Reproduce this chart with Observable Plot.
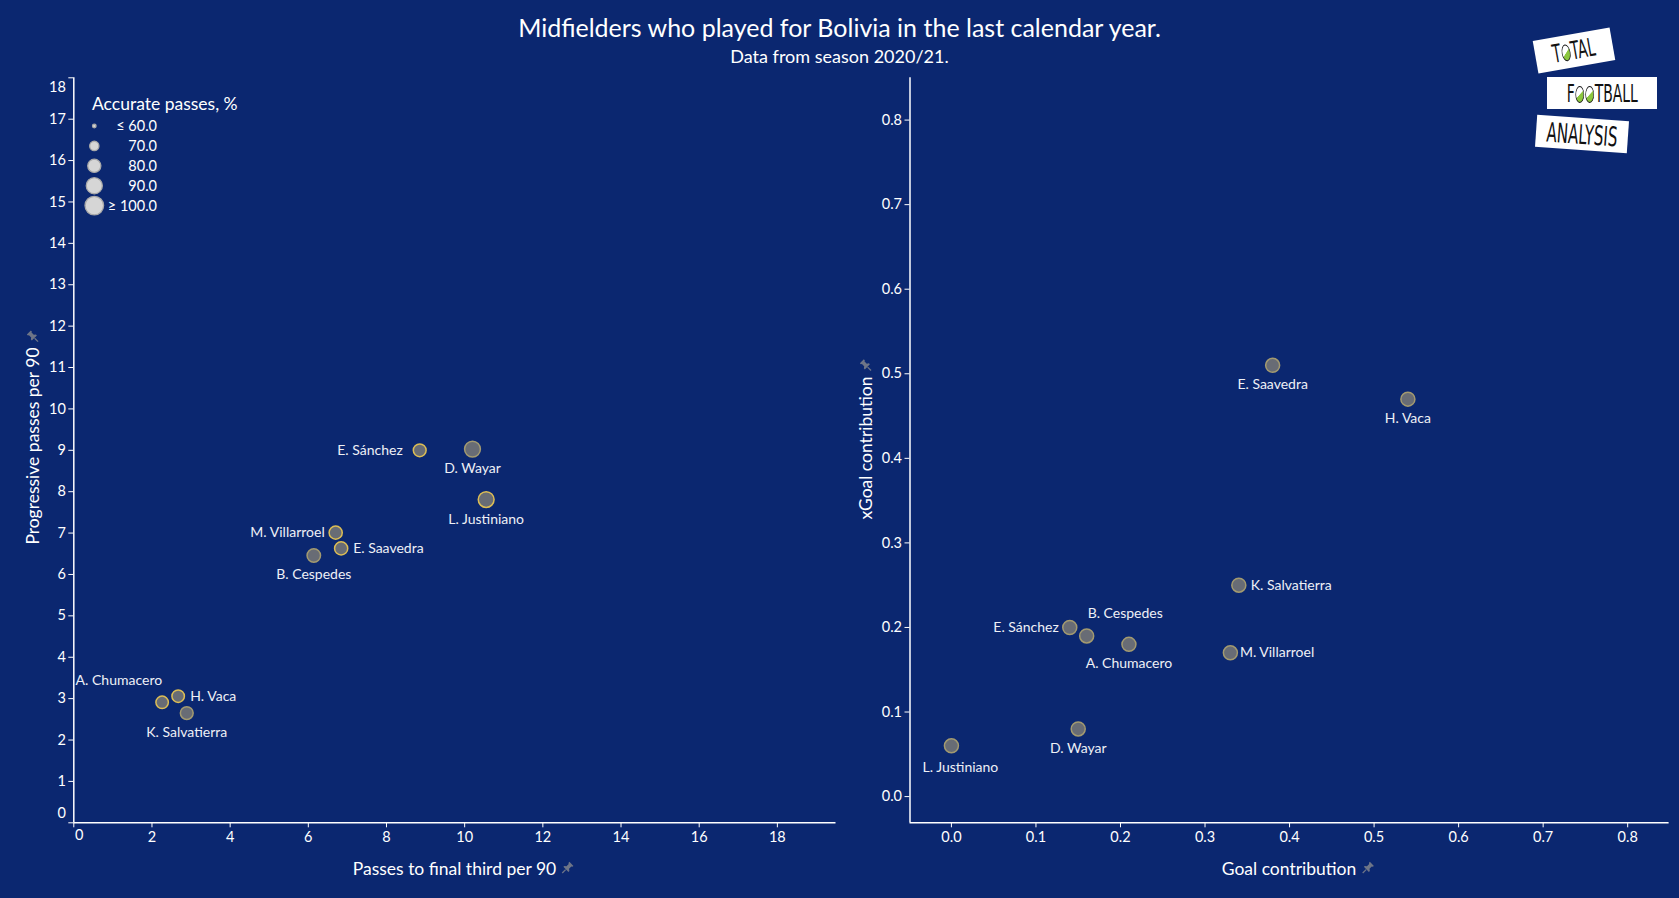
<!DOCTYPE html>
<html>
<head>
<meta charset="utf-8">
<script src="https://cdn.jsdelivr.net/npm/d3@7"></script>
<script src="https://cdn.jsdelivr.net/npm/@observablehq/plot@0.6"></script>
<style>
  html, body { margin: 0; padding: 0; background: #0b2770; overflow: hidden; }
  #page { position: relative; width: 1679px; height: 898px; background: #0b2770; font-family: Lato, "Open Sans", sans-serif; color: #ffffff; overflow: hidden; }
  .hdr { position: absolute; left: 0; width: 1679px; text-align: center; line-height: normal; white-space: nowrap; }
  #title { top: 12px; font-size: 25px; }
  #subtitle { top: 45px; font-size: 18px; }
  .chart { position: absolute; top: 66px; }
  .axlabel { position: absolute; font-size: 17.5px; line-height: normal; white-space: nowrap; color: #ffffff; }
  .axlabel .pin { position: absolute; left: 100%; top: 50%; margin-left: 5px; width: 13px; height: 13px; transform: translateY(-50%); }
  .logo { position: absolute; background: #ffffff; color: #111; font-family: "DejaVu Sans Condensed", "DejaVu Sans", sans-serif; font-weight: 300; display: flex; align-items: center; justify-content: center; letter-spacing: 0px; white-space: nowrap; }
  .logo .txt { display: inline-block; transform: scaleX(0.62); }
  .ball { display: inline-block; width: 14px; height: 17px; border: 1.5px solid #111; border-radius: 50%; box-sizing: border-box; vertical-align: -1px; background: linear-gradient(145deg, #ffffff 48%, #8cc63f 52%); margin: 0 1px; }
  #legend { position: absolute; left: 0; top: 0; }
</style>
</head>
<body>
<div id="page">
  <div class="hdr" id="title">Midfielders who played for Bolivia in the last calendar year.</div>
  <div class="hdr" id="subtitle">Data from season 2020/21.</div>
  <div class="chart" id="leftChart" style="left:0px;"></div>
  <div class="chart" id="rightChart" style="left:840px;"></div>
  <svg id="legend" width="260" height="230"></svg>
</div>
<script>
// ---------------- data ----------------
const players = ["E. Sánchez", "D. Wayar", "L. Justiniano", "M. Villarroel", "E. Saavedra", "B. Cespedes", "A. Chumacero", "H. Vaca", "K. Salvatierra"];
const passesToFinalThird = [8.85, 10.2, 10.55, 6.7, 6.84, 6.14, 2.26, 2.67, 2.89];
const progressivePasses = [9.0, 9.03, 7.81, 7.01, 6.63, 6.46, 2.91, 3.06, 2.65];
const accuratePassesPct = [79, 89, 89, 80, 80, 81, 78, 78, 79];
const borderGroup = ["A", "B", "A", "A", "A", "B", "A", "A", "B"];
const goalContribution = [0.14, 0.15, 0.0, 0.33, 0.38, 0.16, 0.21, 0.54, 0.34];
const xGoalContribution = [0.20, 0.08, 0.06, 0.17, 0.51, 0.19, 0.18, 0.47, 0.25];

const leftXTicks = [0, 2, 4, 6, 8, 10, 12, 14, 16, 18];
const leftYTicks = [0, 1, 2, 3, 4, 5, 6, 7, 8, 9, 10, 11, 12, 13, 14, 15, 16, 17, 18];
const rightXTicks = [0, 0.1, 0.2, 0.3, 0.4, 0.5, 0.6, 0.7, 0.8];
const rightYTicks = [0, 0.1, 0.2, 0.3, 0.4, 0.5, 0.6, 0.7, 0.8];
const legendValues = [60, 70, 80, 90, 100];
const legendLabels = ["≤ 60.0", "70.0", "80.0", "90.0", "≥ 100.0"];

const titleText = "Accurate passes, %";
const leftXLabel = "Passes to final third per 90";
const leftYLabel = "Progressive passes per 90";
const rightXLabel = "Goal contribution";
const rightYLabel = "xGoal contribution";

// size encoding: radius grows with sqrt of the excess over the 60 % floor
const ACC_FLOOR = 60;
const ACC_CEIL = 100;

// label placement (layout, not data)
const leftPlacement = {"E. Sánchez": "leftFar", "D. Wayar": "below", "L. Justiniano": "below", "M. Villarroel": "left", "E. Saavedra": "right", "B. Cespedes": "below", "A. Chumacero": "aboveLeft", "H. Vaca": "right", "K. Salvatierra": "below"};
const rightPlacement = {"E. Sánchez": "left", "D. Wayar": "below", "L. Justiniano": "belowRight", "M. Villarroel": "rightNear", "E. Saavedra": "below", "B. Cespedes": "aboveRight", "A. Chumacero": "below", "H. Vaca": "below", "K. Salvatierra": "right"};
const placementStyle = {
  left: {textAnchor: "end", dx: -11, dy: 0},
  leftFar: {textAnchor: "end", dx: -17, dy: 0},
  right: {textAnchor: "start", dx: 12, dy: 0},
  rightNear: {textAnchor: "start", dx: 9.5, dy: 0},
  below: {textAnchor: "middle", dx: 0, dy: 19.5},
  belowRight: {textAnchor: "middle", dx: 9, dy: 21.5},
  aboveLeft: {textAnchor: "end", dx: 0, dy: -22},
  aboveRight: {textAnchor: "start", dx: 1, dy: -22}
};

const rows = players.map((name, i) => ({
  name, p3: passesToFinalThird[i], prog: progressivePasses[i], acc: accuratePassesPct[i],
  grp: borderGroup[i], gc: goalContribution[i], xgc: xGoalContribution[i]
}));

// ---------------- styles ----------------
const WHITE = "#ffffff";
const POINT_FILL = "#686c75";
const YELLOW = "#dcbd55";
const KHAKI = "#a39a70";
const LABEL_COLOR = "#eef0f6";
const baseStyle = {background: "transparent", color: WHITE, fontFamily: "Lato, 'Open Sans', sans-serif", fontSize: "14.5px", overflow: "visible"};

function labelMarks(placement, xKey, yKey) {
  return Object.entries(placementStyle).map(([kind, st]) =>
    Plot.text(rows.filter(d => placement[d.name] === kind), {
      x: xKey, y: yKey, text: "name", textAnchor: st.textAnchor, dx: st.dx, dy: st.dy,
      fill: LABEL_COLOR, fontSize: 14
    })
  );
}

// ---------------- left chart ----------------
const leftPlot = Plot.plot({
  width: 840, height: 832,
  marginLeft: 73.3, marginRight: 4.5, marginTop: 11.3, marginBottom: 75.7,
  style: baseStyle,
  x: {domain: [0, 19.5]},
  y: {domain: [0, 18]},
  r: {type: "sqrt", domain: [0, ACC_CEIL - ACC_FLOOR], range: [0, 9.3], clamp: true},
  color: {domain: ["A", "B"], range: [YELLOW, KHAKI]},
  marks: [
    Plot.axisX({ticks: leftXTicks.filter(t => t > 0 && t < 19.5), tickSize: 5, tickPadding: 4, label: null, tickFormat: d3.format("d")}),
    Plot.axisX({ticks: [0], tickSize: 5, label: null, tickFormat: () => ""}),
    Plot.text([leftXTicks[0]], {x: d => d, frameAnchor: "bottom", dy: 17, dx: 5.5, text: d => String(d), fill: WHITE, fontSize: 14.5}),
    Plot.axisY({ticks: leftYTicks.filter(t => t > 0 && t < 18), tickSize: 5, tickPadding: 3, label: null, tickFormat: d3.format("d")}),
    Plot.axisY({ticks: [leftYTicks[0], leftYTicks[leftYTicks.length - 1]], tickSize: 5, label: null, tickFormat: () => ""}),
    Plot.text([leftYTicks[0]], {y: d => d, frameAnchor: "left", textAnchor: "end", dx: -8, dy: -9.6, text: d => String(d), fill: WHITE, fontSize: 14.5}),
    Plot.text([leftYTicks[leftYTicks.length - 1]], {y: d => d, frameAnchor: "left", textAnchor: "end", dx: -8, dy: 9.7, text: d => String(d), fill: WHITE, fontSize: 14.5}),
    Plot.ruleX([0], {stroke: WHITE, strokeWidth: 1.5}),
    Plot.ruleY([0], {stroke: WHITE, strokeWidth: 1.5}),
    Plot.dot(rows, {x: "p3", y: "prog", r: d => d.acc - ACC_FLOOR, fill: POINT_FILL, stroke: "grp", strokeWidth: 1.5}),
    ...labelMarks(leftPlacement, "p3", "prog")
  ]
});
document.getElementById("leftChart").appendChild(leftPlot);

// ---------------- right chart ----------------
const rightPlot = Plot.plot({
  width: 839, height: 832,
  marginLeft: 69.5, marginRight: 10.4, marginTop: 11.3, marginBottom: 75.7,
  style: baseStyle,
  x: {domain: [-0.049, 0.849]},
  y: {domain: [-0.031, 0.85]},
  marks: [
    Plot.axisX({ticks: rightXTicks, tickSize: 5, tickPadding: 4, label: null, tickFormat: d3.format(".1f")}),
    Plot.axisY({ticks: rightYTicks, tickSize: 5, tickPadding: 3, label: null, tickFormat: d3.format(".1f")}),
    Plot.ruleX([-0.049], {stroke: WHITE, strokeWidth: 1.5}),
    Plot.ruleY([-0.031], {stroke: WHITE, strokeWidth: 1.5}),
    Plot.dot(rows, {x: "gc", y: "xgc", r: 7, fill: POINT_FILL, stroke: KHAKI, strokeWidth: 1.5}),
    ...labelMarks(rightPlacement, "gc", "xgc")
  ]
});
document.getElementById("rightChart").appendChild(rightPlot);

// ---------------- legend (uses the left chart's r scale) ----------------
const rScale = leftPlot.scale("r");
const lg = d3.select("#legend");
lg.append("text").attr("x", 92).attr("y", 109.5).attr("fill", WHITE)
  .style("font-family", "Lato, sans-serif").style("font-size", "17.5px").text(titleText);
legendValues.forEach((v, i) => {
  const cy = 126 + i * 19.9;
  lg.append("circle").attr("cx", 94.3).attr("cy", cy).attr("r", Math.max(1.8, rScale.apply(v - ACC_FLOOR)))
    .attr("fill", "#d6d6d6").attr("stroke", "#a9a9a9").attr("stroke-width", 1.3);
  lg.append("text").attr("x", 157).attr("y", cy + 5).attr("text-anchor", "end").attr("fill", WHITE)
    .style("font-family", "Lato, sans-serif").style("font-size", "14.5px").text(legendLabels[i]);
});

// ---------------- axis titles ----------------
const pinSvg = '<svg class="pin" viewBox="0 0 16 16"><path d="M10 1 L15 6 L13.6 7.2 L12.4 6.8 L9.6 9.6 L10 12.2 L8.8 13.4 L2.6 7.2 L3.8 6 L6.4 6.4 L9.2 3.6 L8.8 2.4 Z" fill="#6e7587"/><path d="M5.4 10.6 L1.2 14.8" stroke="#6e7587" stroke-width="1.6"/></svg>';
function axisTitle(text, cx, cy, rotate) {
  const div = document.createElement("div");
  div.className = "axlabel";
  div.innerHTML = '<span class="t">' + text + '</span>' + pinSvg;
  div.style.left = cx + "px";
  div.style.top = cy + "px";
  div.style.transform = "translate(-50%, -50%)" + (rotate ? " rotate(-90deg)" : "");
  document.getElementById("page").appendChild(div);
}
axisTitle(leftXLabel, 454.5, 867.5, false);
axisTitle(rightXLabel, 1289, 867.5, false);
axisTitle(leftYLabel, 31.5, 446, true);
axisTitle(rightYLabel, 865, 448, true);

// ---------------- logo ----------------
const logoBoxes = [
  {html: 'T<span class="ball"></span>TAL', cx: 1574, cy: 50.5, w: 78, h: 33, rot: -10, fs: 25},
  {html: 'F<span class="ball"></span><span class="ball"></span>TBALL', cx: 1602, cy: 93, w: 110, h: 32.5, rot: 0, fs: 25},
  {html: 'ANALYSIS', cx: 1581.5, cy: 133.5, w: 92, h: 32, rot: 4, fs: 27}
];
logoBoxes.forEach(b => {
  const d = document.createElement("div");
  d.className = "logo";
  d.style.left = (b.cx - b.w / 2) + "px";
  d.style.top = (b.cy - b.h / 2) + "px";
  d.style.width = b.w + "px";
  d.style.height = b.h + "px";
  d.style.fontSize = b.fs + "px";
  d.style.transform = "rotate(" + b.rot + "deg)";
  d.innerHTML = '<span class="txt">' + b.html + '</span>';
  document.getElementById("page").appendChild(d);
});
</script>
</body>
</html>
